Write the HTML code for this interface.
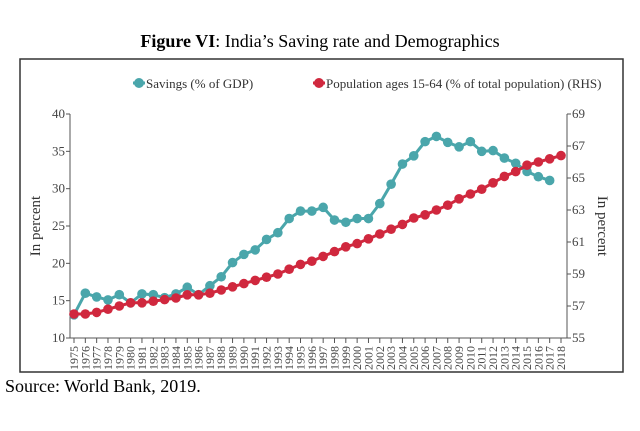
<!DOCTYPE html>
<html><head><meta charset="utf-8"><style>
body{margin:0;background:#fff;width:640px;height:426px;overflow:hidden;}
svg, svg text{font-family:"Liberation Serif", "DejaVu Serif", serif;}
</style></head><body>
<svg id="chart" width="640" height="426" xmlns="http://www.w3.org/2000/svg">
<text x="320" y="47" text-anchor="middle" font-size="18" fill="#000"><tspan font-weight="bold">Figure VI</tspan>: India’s Saving rate and Demographics</text>
<rect x="20" y="59" width="603" height="313" fill="none" stroke="#333" stroke-width="1.5"/>
<g>
<g><line x1="133" y1="83" x2="145" y2="83" stroke="#4aa6ab" stroke-width="3"/><circle cx="139" cy="83" r="5" fill="#4aa6ab"/><text x="146" y="88" font-size="13" fill="#333">Savings (% of GDP)</text></g>
<g><line x1="313" y1="83" x2="325" y2="83" stroke="#d0283e" stroke-width="3"/><circle cx="319" cy="83" r="5" fill="#d0283e"/><text x="326" y="88" font-size="13" fill="#333">Population ages 15-64 (% of total population) (RHS)</text></g>
</g>
<text transform="translate(40,226) rotate(-90)" text-anchor="middle" font-size="15" fill="#333">In percent</text>
<text transform="translate(598,226) rotate(90)" text-anchor="middle" font-size="15" fill="#333">In percent</text>
<text x="5" y="392" font-size="18" fill="#000">Source: World Bank, 2019.</text>
<g id="plot"></g>
</svg>
<script>
const years = [];
for (let y = 1975; y <= 2018; y++) years.push(y);
const savings = [13.1,16.0,15.5,15.1,15.8,14.7,15.9,15.8,15.4,15.9,16.8,15.8,17.0,18.2,20.1,21.2,21.8,23.2,24.1,26.0,27.0,27.0,27.5,25.8,25.5,26.0,26.0,28.0,30.6,33.3,34.4,36.3,37.0,36.2,35.6,36.3,35.0,35.1,34.1,33.4,32.3,31.6,31.1];
const population = [56.5,56.5,56.6,56.8,57.0,57.2,57.2,57.3,57.4,57.5,57.7,57.7,57.8,58.0,58.2,58.4,58.6,58.8,59.0,59.3,59.6,59.8,60.1,60.4,60.7,60.9,61.2,61.5,61.8,62.1,62.5,62.7,63.0,63.3,63.7,64.0,64.3,64.7,65.1,65.4,65.8,66.0,66.2,66.4];
const leftTicks = [10,15,20,25,30,35,40];
const rightTicks = [55,57,59,61,63,65,67,69];

const NS = "http://www.w3.org/2000/svg";
const plot = document.getElementById("plot");
const X0 = 70, X1 = 567, YT = 114, YB = 338;
const xPos = i => 74 + i * (561 - 74) / (years.length - 1);
const yL = v => YB - (v - 10) / 30 * (YB - YT);
const yR = v => YB - (v - 55) / 14 * (YB - YT);
function mk(tag, attrs) { const e = document.createElementNS(NS, tag); for (const k in attrs) e.setAttribute(k, attrs[k]); plot.appendChild(e); return e; }

let e;
e = mk("line", {x1: X0, y1: YT, x2: X0, y2: YB, stroke: "#555", "stroke-width": 1});


e = mk("line", {x1: X1, y1: YT, x2: X1, y2: YB, stroke: "#555", "stroke-width": 1});


e = mk("line", {x1: X0, y1: YB, x2: X1, y2: YB, stroke: "#555", "stroke-width": 1});



leftTicks.forEach(v => {
  mk("line", {x1: X0 - 4, y1: yL(v), x2: X0, y2: yL(v), stroke: "#555"});
  e = mk("text", {x: X0 - 5, y: yL(v) + 4, "text-anchor": "end", "font-size": 13, fill: "#444"});
  e.textContent = v;
  
  
});
rightTicks.forEach(v => {
  mk("line", {x1: X1, y1: yR(v), x2: X1 + 4, y2: yR(v), stroke: "#555"});
  e = mk("text", {x: X1 + 5, y: yR(v) + 4, "font-size": 13, fill: "#444"});
  e.textContent = v;
  
  
});
years.forEach((yr, i) => {
  const x = xPos(i);
  mk("line", {x1: x, y1: YB, x2: x, y2: YB + 5, stroke: "#555"});
  e = mk("text", {transform: `translate(${x + 4},${YB + 8}) rotate(-90)`, "text-anchor": "end", "font-size": 12, fill: "#444"});
  e.textContent = yr;
  
  
});

function series(vals, yf, color, name) {
  const pts = vals.map((v, i) => xPos(i) + "," + yf(v)).join(" ");
  e = mk("polyline", {points: pts, fill: "none", stroke: color, "stroke-width": 3});
  
  
  vals.forEach((v, i) => {
    e = mk("circle", {cx: xPos(i), cy: yf(v), r: 4.8, fill: color});
    
    
  });
}
series(savings, yL, "#4aa6ab", "savings");
series(population, yR, "#d0283e", "population");
</script>
</body></html>
